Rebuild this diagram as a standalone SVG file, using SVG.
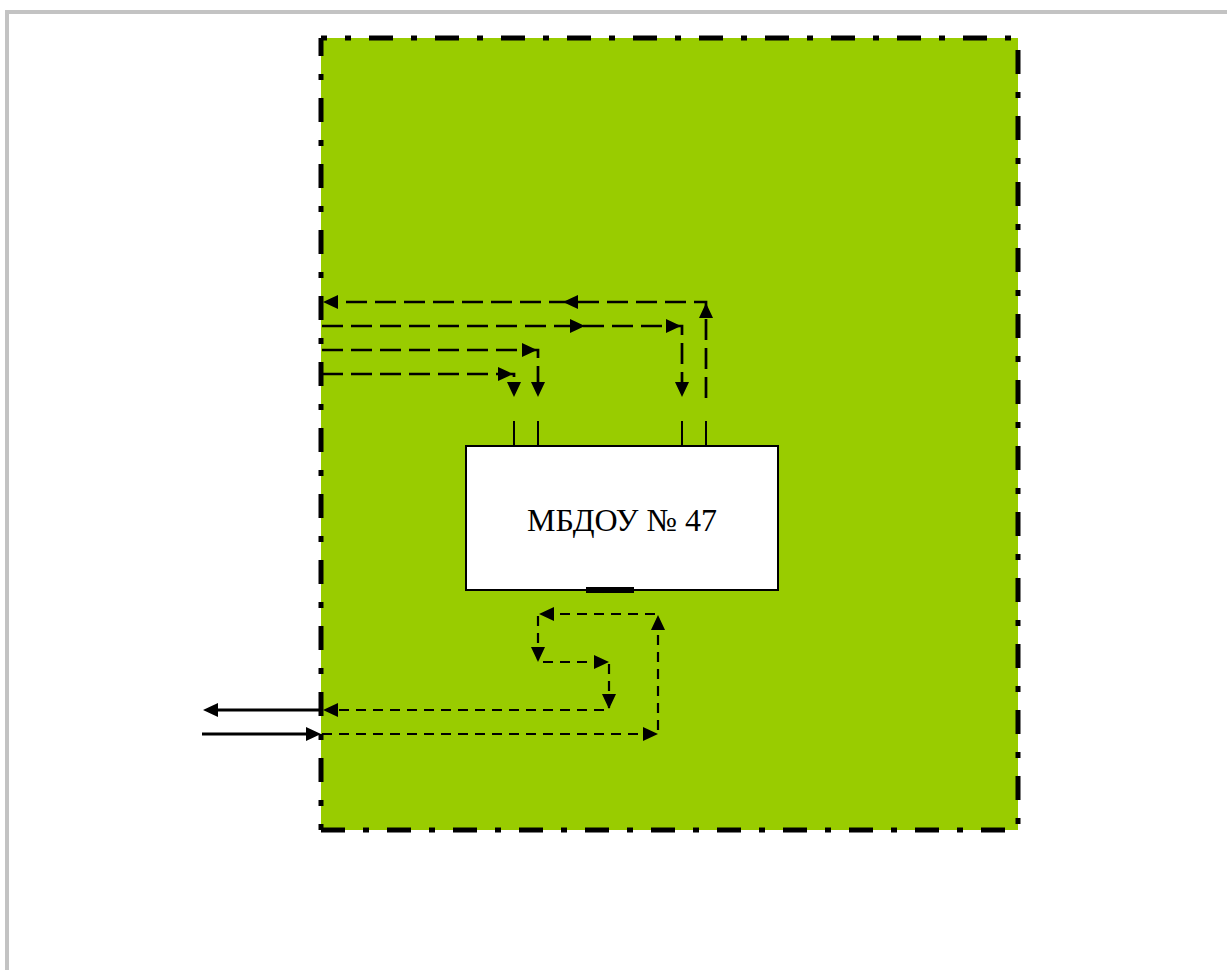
<svg xmlns="http://www.w3.org/2000/svg" width="1227" height="970" viewBox="0 0 1227 970">
  <style>
    .frame { stroke: #c3c3c3; stroke-width: 4; fill: none; }
    .border { stroke: #000; stroke-width: 5; fill: none; stroke-dasharray: 24 18 6 18; }
    .dash1 { stroke: #000; stroke-width: 2.7; fill: none; stroke-dasharray: 21 8; }
    .dash2 { stroke: #000; stroke-width: 2.2; fill: none; stroke-dasharray: 10 7; }
    .solid { stroke: #000; stroke-width: 2; fill: none; }
    .solid3 { stroke: #000; stroke-width: 3; fill: none; }
    .ah { fill: #000; stroke: none; }
    .label { font-family: "Liberation Serif", "Times New Roman", serif; font-size: 32px; fill: #000; }
  </style>
  <rect width="1227" height="970" fill="#fff"/>
  <g id="frame">
    <line class="frame" x1="5" y1="12" x2="1227" y2="12"/>
    <line class="frame" x1="7" y1="10" x2="7" y2="970"/>
  </g>
  <g id="area">
    <rect x="321" y="38" width="697" height="792" fill="#99cc00"/>
    <line class="border" x1="321" y1="38" x2="1018" y2="38" stroke-dashoffset="18"/>
    <line class="border" x1="1018" y1="38" x2="1018" y2="830" stroke-dashoffset="54"/>
    <line class="border" x1="321" y1="830" x2="1018" y2="830" stroke-dashoffset="0"/>
    <line class="border" x1="321" y1="38" x2="321" y2="830" stroke-dashoffset="6"/>
  </g>
  <g id="connectors">
    <!-- top dashed connectors -->
    <path class="dash1" d="M706,398 V302 H330"/>
    <path class="dash1" d="M322,326 H682 V390"/>
    <path class="dash1" d="M322,350 H538 V390"/>
    <path class="dash1" d="M322,374 H514 V390"/>
    <polygon class="ah" points="706,303 699,318 713,318"/>
    <polygon class="ah" points="563,302 578,295 578,309"/>
    <polygon class="ah" points="323,302 338,295 338,309"/>
    <polygon class="ah" points="585,326 570,319 570,333"/>
    <polygon class="ah" points="681,326 666,319 666,333"/>
    <polygon class="ah" points="682,397 675,382 689,382"/>
    <polygon class="ah" points="537,350 522,343 522,357"/>
    <polygon class="ah" points="538,397 531,382 545,382"/>
    <polygon class="ah" points="513,374 498,367 498,381"/>
    <polygon class="ah" points="514,397 507,382 521,382"/>
    <line class="solid" x1="514" y1="421" x2="514" y2="446"/>
    <line class="solid" x1="538" y1="421" x2="538" y2="446"/>
    <line class="solid" x1="682" y1="421" x2="682" y2="446"/>
    <line class="solid" x1="706" y1="421" x2="706" y2="446"/>
    <!-- bottom dashed connectors -->
    <path class="dash2" d="M322,734 H658 V614 H538 V662 H609 V710 H330"/>
    <polygon class="ah" points="658,734 643,727 643,741"/>
    <polygon class="ah" points="658,615 651,630 665,630"/>
    <polygon class="ah" points="539,614 554,607 554,621"/>
    <polygon class="ah" points="538,662 531,647 545,647"/>
    <polygon class="ah" points="609,662 594,655 594,669"/>
    <polygon class="ah" points="609,709 602,694 616,694"/>
    <polygon class="ah" points="323,710 338,703 338,717"/>
    <!-- outside solid arrows -->
    <line class="solid3" x1="321" y1="710" x2="212" y2="710"/>
    <polygon class="ah" points="203,710 218,703 218,717"/>
    <line class="solid3" x1="202" y1="734" x2="312" y2="734"/>
    <polygon class="ah" points="321,734 306,727 306,741"/>
  </g>
  <g id="mbdou">
    <rect x="466" y="446" width="312" height="144" fill="#fff" stroke="#000" stroke-width="2"/>
    <rect x="586" y="587" width="48" height="6" fill="#000"/>
    <text class="label" x="622" y="531" text-anchor="middle">МБДОУ № 47</text>
  </g>
</svg>
